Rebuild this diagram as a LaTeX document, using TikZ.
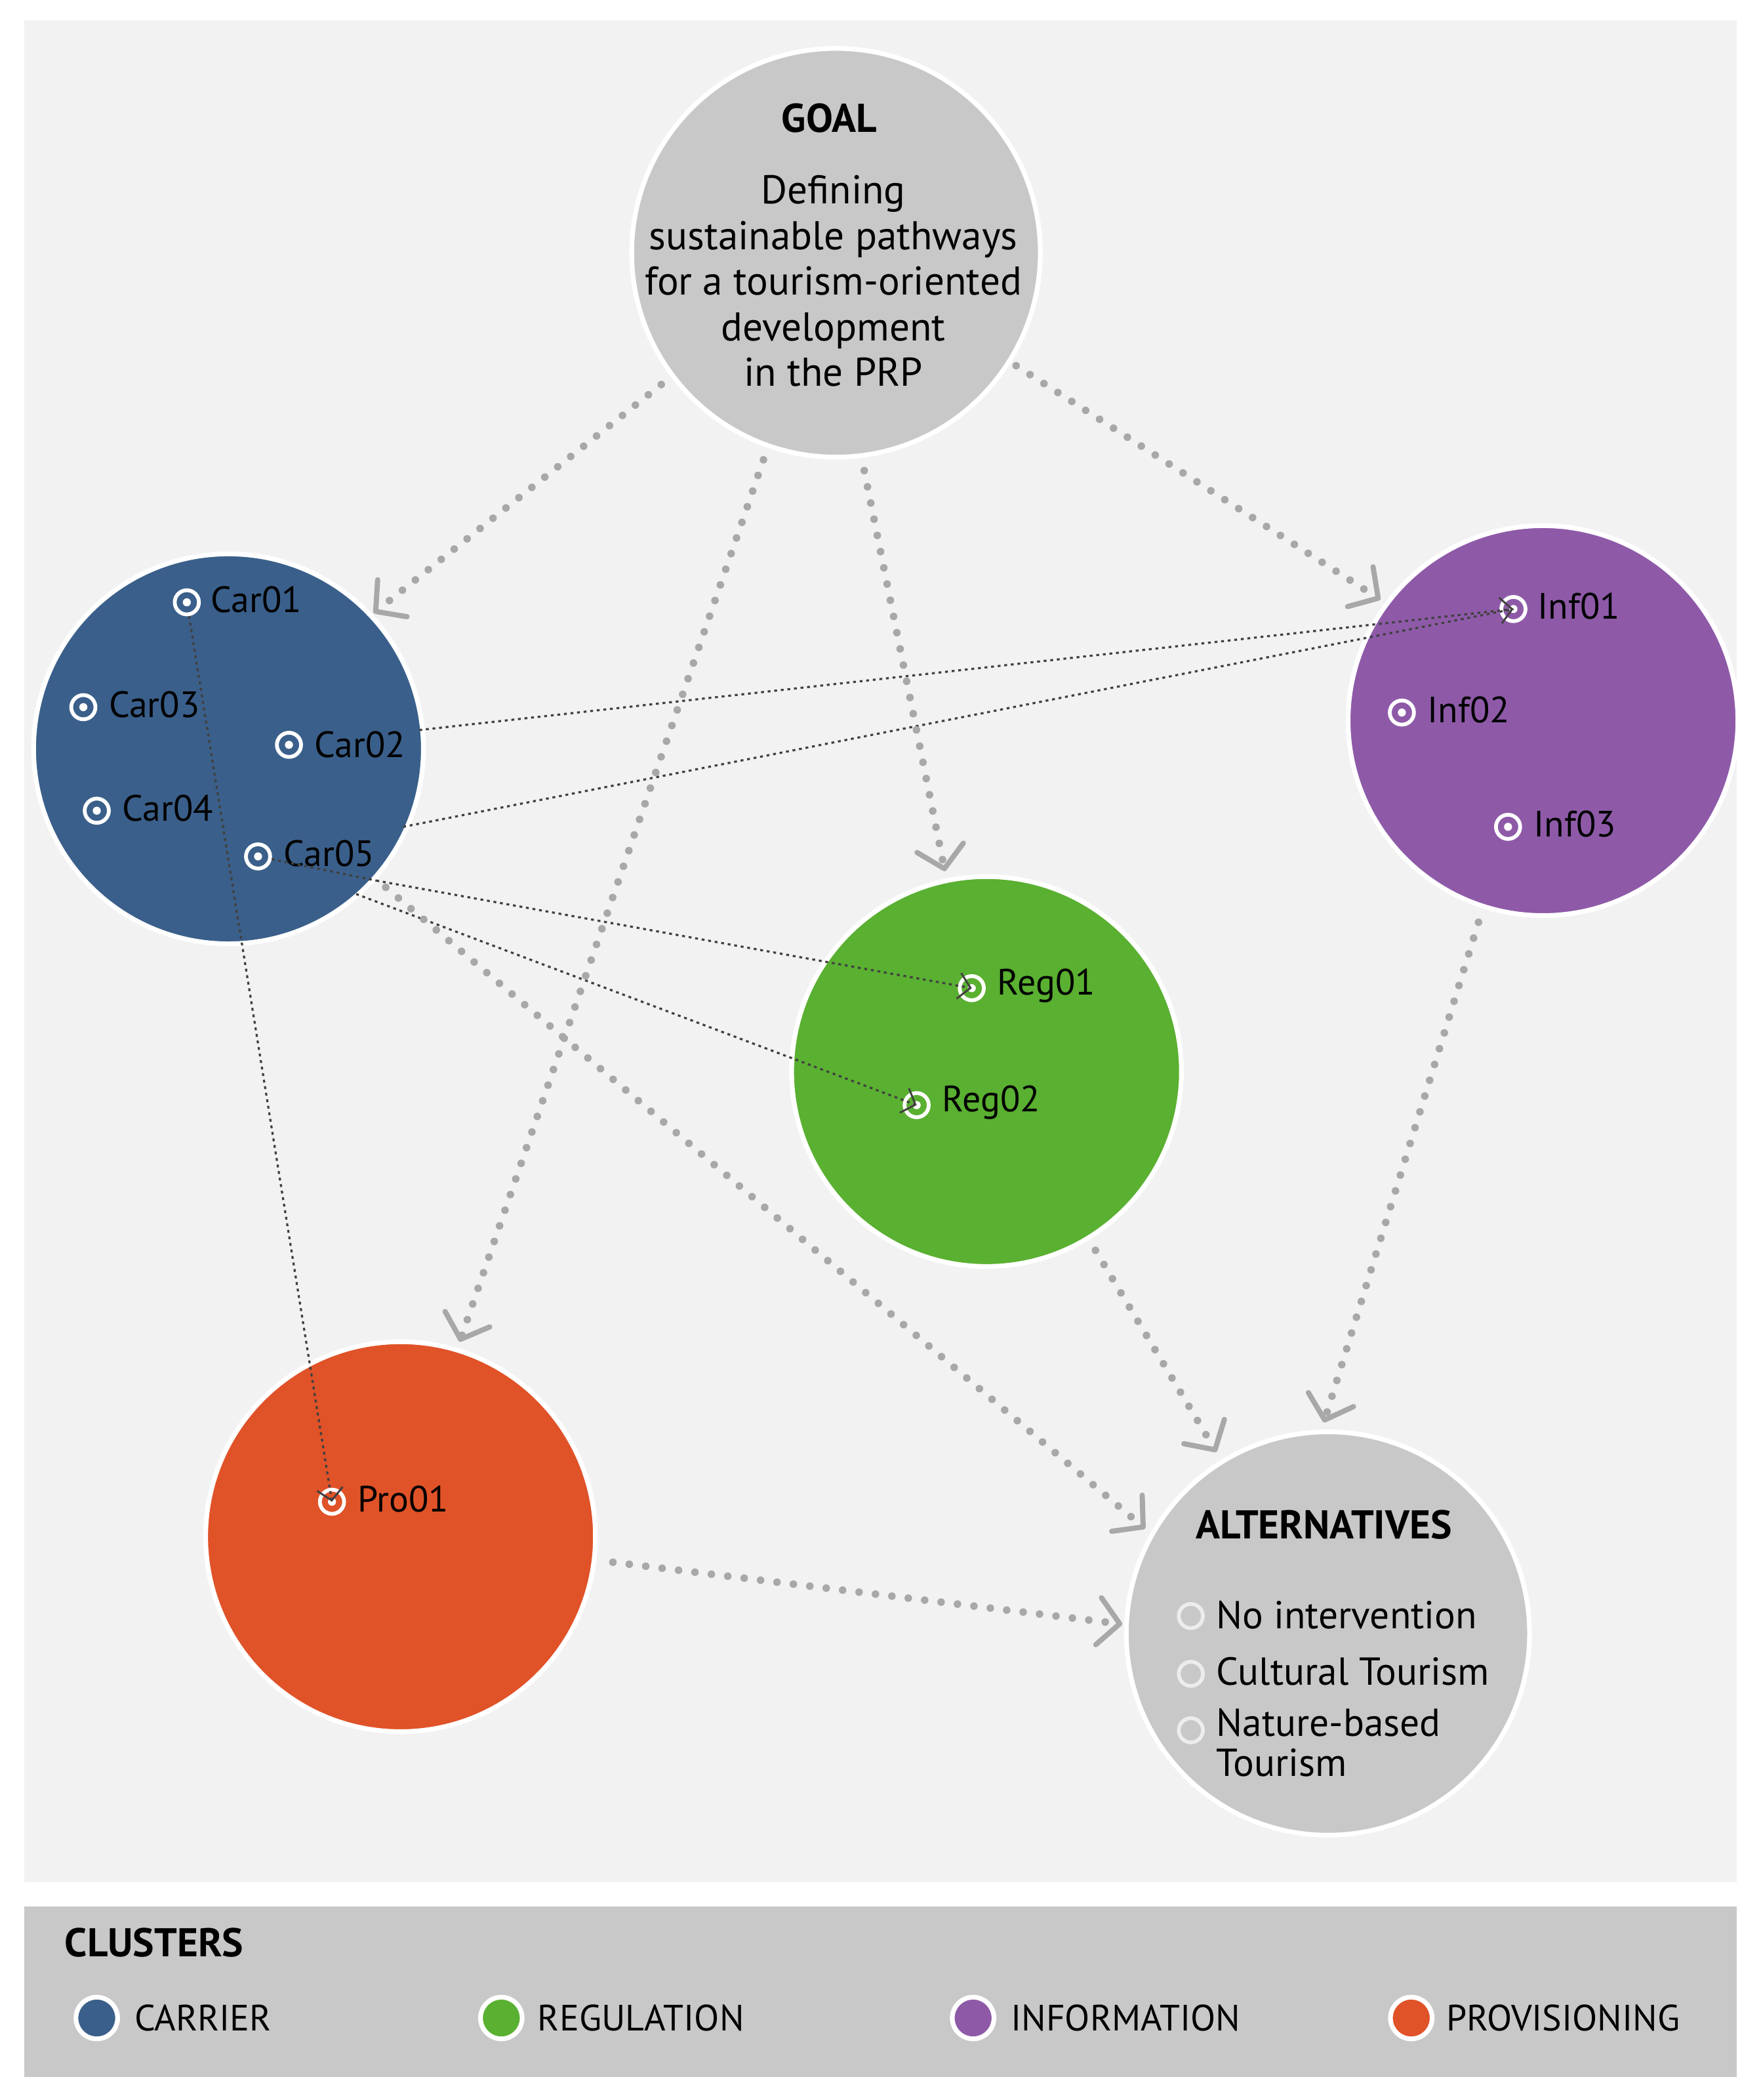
\documentclass[tikz,border=0pt]{standalone}
\usepackage{fontspec}
\setmainfont{PT Sans}
\usetikzlibrary{arrows.meta}
\definecolor{bgc}{HTML}{F2F2F2}
\definecolor{gr}{HTML}{C8C8C8}
\definecolor{carc}{HTML}{3A5F8A}
\definecolor{infc}{HTML}{8E5AA8}
\definecolor{regc}{HTML}{5AB031}
\definecolor{proc}{HTML}{E05228}
\definecolor{arc}{HTML}{A8A8A8}
\begin{document}
\begin{tikzpicture}[x=0.02cm,y=-0.02cm,
  clu/.style={circle,draw=white,line width=2pt,minimum size=290*0.02cm,inner sep=0pt},
  big/.style={draw=arc,line width=3.2pt,line cap=round,dash pattern=on 0pt off 7pt,
    -{Straight Barb[length=9pt,width=20pt,line width=2.2pt,round]}},
  thin/.style={draw=black!75,line width=0.9pt,dash pattern=on 1.2pt off 1.6pt},
  thina/.style={thin,-{Straight Barb[length=5pt,width=11pt,line width=0.8pt]}},
  mk/.style={circle,draw=white,line width=1.6pt,minimum size=0.36cm,inner sep=0pt,
    path picture={\fill[white] (path picture bounding box.center) circle (0.06cm);}},
  amk/.style={circle,draw=white!85!gray,line width=1.6pt,minimum size=0.36cm,inner sep=0pt},
  lab/.style={font=\fontsize{15.5}{17}\selectfont,anchor=west,inner sep=1pt},
  leg/.style={circle,draw=white,line width=2pt,minimum size=0.62cm,inner sep=0pt}]
\useasboundingbox (0,0) rectangle (1310,1562);
\fill[white] (0,0) rectangle (1310,1562);
\fill[bgc] (18,15) rectangle (1292,1400);
\fill[gr] (18,1418) rectangle (1292,1545);
% clusters
\node[clu,fill=gr,minimum size=304*0.02cm] (goal) at (622,188) {};
\node[clu,fill=carc] (car) at (170,557) {};
\node[clu,fill=infc] (inf) at (1148,536) {};
\node[clu,fill=regc] (reg) at (734,797) {};
\node[clu,fill=proc] (pro) at (298,1143) {};
\node[clu,fill=gr,minimum size=300*0.02cm] (alt) at (988,1215) {};
% goal text
\node[font=\bfseries\fontsize{17}{20}\selectfont] (gt) at (617,88) {GOAL};
\node[font=\fontsize{17}{19.3}\selectfont,align=center] (gd) at (620,209)
  {Defining\\sustainable pathways\\for a tourism-oriented\\development\\in the PRP};
\node[font=\bfseries\fontsize{17}{20}\selectfont] (at) at (985,1134) {ALTERNATIVES};
\node[amk] (a1) at (886,1202) {};
\node[amk] (a2) at (886,1245) {};
\node[amk] (a3) at (886,1287) {};
\node[lab,font=\fontsize{16.5}{18}\selectfont] (a1t) at (903,1201) {No intervention};
\node[lab,font=\fontsize{16.5}{18}\selectfont] (a2t) at (903,1243) {Cultural Tourism};
\node[lab,font=\fontsize{16.5}{17}\selectfont,align=left] (a3t) at (903,1296) {Nature-based\\Tourism};
% markers
\node[mk] (car01) at (139,448) {}; \node[lab] at (155,446) {Car01};
\node[mk] (car03) at (62,526) {};  \node[lab] at (79,524) {Car03};
\node[mk] (car02) at (215,554) {}; \node[lab] at (232,554) {Car02};
\node[mk] (car04) at (72,603) {};  \node[lab] at (89,601) {Car04};
\node[mk] (car05) at (192,637) {}; \node[lab] at (209,635) {Car05};
\node[mk] (inf01) at (1126,453) {}; \node[lab] at (1142,451) {Inf01};
\node[mk] (inf02) at (1043,530) {}; \node[lab] at (1060,528) {Inf02};
\node[mk] (inf03) at (1122,615) {}; \node[lab] at (1139,613) {Inf03};
\node[mk] (reg01) at (723,735) {}; \node[lab] at (740,733) {Reg01};
\node[mk] (reg02) at (682,822) {}; \node[lab] at (699,820) {Reg02};
\node[mk] (pro01) at (247,1117) {}; \node[lab] at (264,1115) {Pro01};
% thin links
\coordinate (c2s) at (312,543);
\coordinate (c5s) at (300,615);
\coordinate (c5r) at (280,655);
\coordinate (c5q) at (265,665);
\draw[thina] (car01) -- (pro01.center);
\draw[thina] (c2s) -- (inf01.center);
\draw[thin] (c5s) -- (inf01.center);
\draw[thina] (c5r) -- (reg01.center);
\draw[thina] (c5q) -- (reg02.center);
\draw[thin] (car05) -- (c5r);
% big dotted arrows
\coordinate (g1) at (492,286); \coordinate (e1) at (278,456);
\coordinate (g2) at (568,342); \coordinate (e2) at (342,998);
\coordinate (g3) at (643,350); \coordinate (e3) at (703,648);
\coordinate (g4) at (756,272); \coordinate (e4) at (1027,446);
\coordinate (s5) at (287,660); \coordinate (e5) at (852,1137);
\coordinate (s6) at (815,930); \coordinate (e6) at (905,1080);
\coordinate (s7) at (1100,686); \coordinate (e7) at (985,1058);
\coordinate (s8) at (456,1162); \coordinate (e8) at (835,1208);
\draw[big] (g1) -- (e1);
\draw[big] (g2) -- (e2);
\draw[big] (g3) -- (e3);
\draw[big] (g4) -- (e4);
\draw[big] (s5) -- (e5);
\draw[big] (s6) -- (e6);
\draw[big] (s7) -- (e7);
\draw[big] (s8) -- (e8);
% legend
\node[font=\bfseries\fontsize{17}{20}\selectfont,anchor=west] (cl) at (42,1445) {CLUSTERS};
\node[leg,fill=carc] (l1) at (72,1501) {}; \node[lab] at (98,1501) {CARRIER};
\node[leg,fill=regc] (l2) at (373,1501) {}; \node[lab] at (398,1501) {REGULATION};
\node[leg,fill=infc] (l3) at (724,1501) {}; \node[lab] at (750,1501) {INFORMATION};
\node[leg,fill=proc] (l4) at (1050,1501) {}; \node[lab] at (1074,1501) {PROVISIONING};
\end{tikzpicture}
\end{document}
